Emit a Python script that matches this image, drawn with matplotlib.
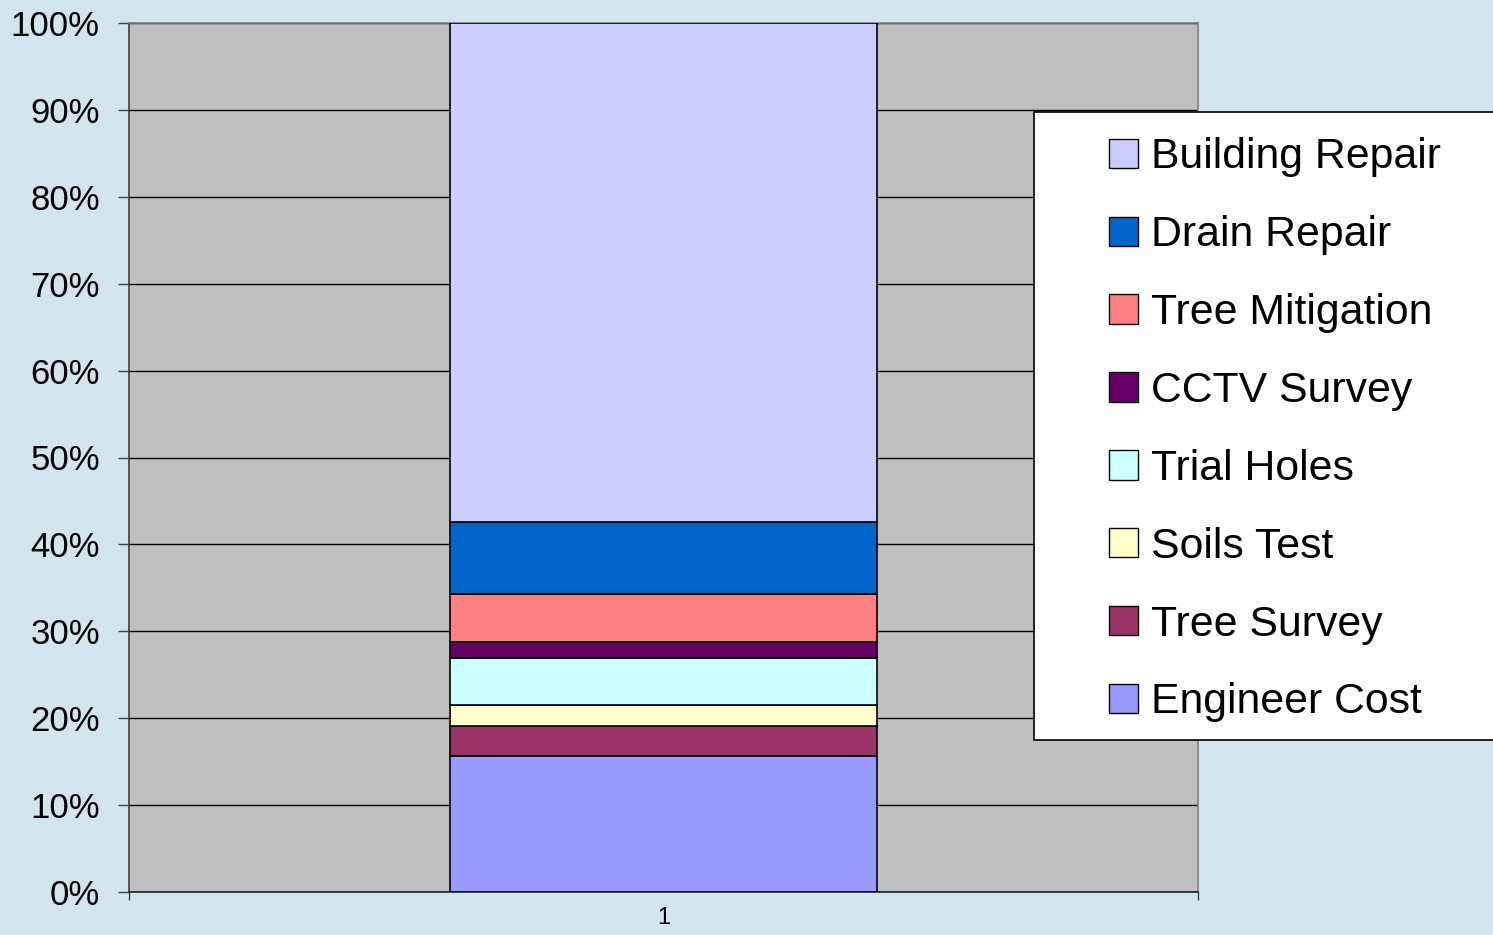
"""Stacked 100% cost breakdown bar, Excel-style."""
import matplotlib
matplotlib.use("Agg")
import matplotlib.pyplot as plt
from matplotlib.patches import Rectangle

plt.rcParams["font.family"] = ["Liberation Sans", "DejaVu Sans"]

# Cost shares (percent of total), stacked bottom to top
categories = ["1"]
series = ["Engineer Cost", "Tree Survey", "Soils Test", "Trial Holes",
          "CCTV Survey", "Tree Mitigation", "Drain Repair", "Building Repair"]
shares = [15.6, 3.5, 2.45, 5.4, 1.85, 5.5, 8.3, 57.4]
colours = ["#9999FF", "#993366", "#FFFFCC", "#CCFFFF",
           "#660066", "#FF8080", "#0066CC", "#CCCCFF"]

W, H = 1493, 935
fig = plt.figure(figsize=(W / 100, H / 100), dpi=100)
fig.patch.set_facecolor("#D2E4EC")

ax = fig.add_axes([129 / W, 1 - 892 / H, (1198 - 129) / W, (892 - 23) / H])
ax.set_facecolor("#C0C0C0")

# Stack the bars
total = sum(shares)
bottom = 0.0
handles = []
for name, val, col in zip(series, shares, colours):
    pct = val / total * 100
    b = ax.bar([1], [pct], width=0.4, bottom=bottom, color=col,
               edgecolor="black", linewidth=1.2, label=name, zorder=3)
    handles.append(b)
    bottom += pct

# Axis setup
ax.set_xlim(0.5, 1.5)
ax.set_ylim(0, 100)
ax.set_yticks(range(0, 101, 10))
ax.set_yticklabels([f"{v}%" for v in range(0, 101, 10)], fontsize=25)
ax.yaxis.grid(True, color="black", linewidth=1.0, zorder=1)
ax.set_axisbelow(True)
ax.tick_params(axis="y", direction="out", length=8, width=1, pad=13,
               color="#404040")

ax.set_xticks([1])
ax.set_xticklabels(categories, fontsize=17)
ax.set_xticks([0.5, 1.5], minor=True)
ax.tick_params(axis="x", which="major", length=0, pad=11)
ax.tick_params(axis="x", which="minor", length=6, width=1, color="#404040")

ax.spines["top"].set_color("#808080")
ax.spines["right"].set_color("#808080")
ax.spines["left"].set_color("#404040")
ax.spines["bottom"].set_color("#202020")
for s in ax.spines.values():
    s.set_linewidth(1.2)

# Legend frame runs off the right edge like the original
fig.patches.append(Rectangle((1034 / W, 1 - 740 / H), (W - 1034 + 10) / W,
                             (740 - 112) / H, transform=fig.transFigure,
                             facecolor="white", edgecolor="black",
                             linewidth=1.2, zorder=5))

leg = fig.legend(handles[::-1], series[::-1], loc="upper left",
                 bbox_to_anchor=(1088 / W, 1 - 116 / H), frameon=False,
                 fontsize=30.8, handlelength=0.68, handleheight=0.68,
                 handletextpad=0.3, labelspacing=0.885, borderpad=0.0)
leg.set_zorder(6)
for p in leg.get_patches():
    p.set_edgecolor("black")
    p.set_linewidth(1.0)

fig.savefig("out.png", dpi=100, facecolor=fig.get_facecolor())
